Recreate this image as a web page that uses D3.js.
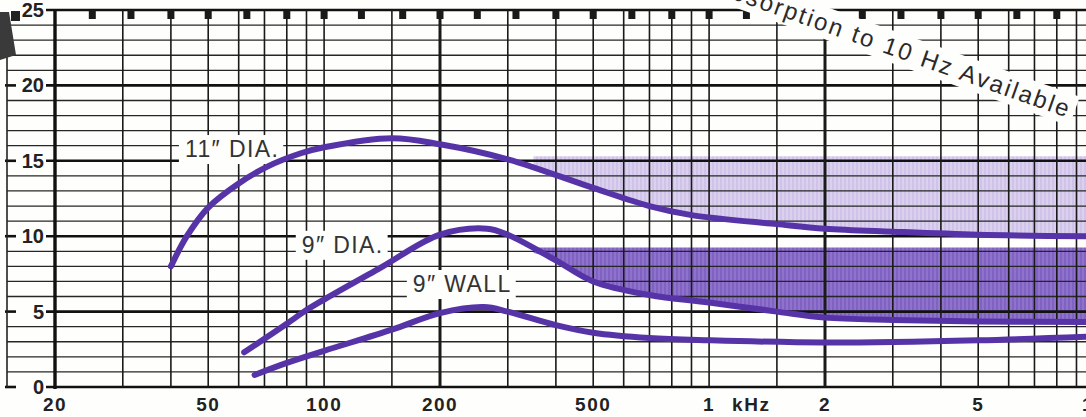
<!DOCTYPE html>
<html>
<head>
<meta charset="utf-8">
<script src="https://cdn.jsdelivr.net/npm/d3@7"></script>
<style>
  body { margin: 0; background: #fefefc; }
  svg { display: block; font-family: "Liberation Sans", Arial, sans-serif; }
</style>
</head>
<body>
<div id="graphic"></div>
<script>
// frequency axis (Hz) and absorption axis
const freqTicks = [20, 50, 100, 200, 500, 1000, 2000, 5000, 10000]
const freqTickLabels = ["20", "50", "100", "200", "500", "1", "2", "5", "10"]
const gridFreqs = [30, 40, 50, 60, 70, 80, 90, 100, 150, 200, 300, 400, 500, 600, 700, 800, 900,
    1000, 1500, 2000, 3000, 4000, 5000, 6000, 7000, 8000, 9000]
const heavyFreqs = [200, 2000]
const thirdOctaves = [25, 31.5, 40, 50, 63, 80, 100, 125, 160, 200, 250, 315, 400, 500, 630, 800,
    1000, 1250, 1600, 2000, 2500, 3150, 4000, 5000, 6300, 8000]
const yMajor = [0, 5, 10, 15, 20, 25]
const yMinor = [1, 2, 3, 4, 6, 7, 8, 9, 11, 12, 13, 14, 16, 17, 18, 19, 21, 22, 23, 24]

// curves
const dia11Freq = [40, 44, 50, 60, 71, 87, 100, 150, 200, 300, 500, 700, 900, 1500, 2000, 3000, 5000, 10000]
const dia11Abs = [8.0, 10.0, 11.9, 13.5, 14.6, 15.5, 15.9, 16.5, 16.1, 15.1, 13.2, 12.0, 11.4, 10.8, 10.5, 10.3, 10.1, 10.0]
const dia9Freq = [62, 70, 80, 90, 100, 140, 200, 265, 300, 400, 500, 700, 1000, 1500, 2000, 3000, 5000, 10000]
const dia9Abs = [2.3, 3.2, 4.2, 5.1, 5.8, 7.9, 10.1, 10.5, 10.1, 8.4, 7.0, 6.1, 5.6, 5.0, 4.6, 4.45, 4.35, 4.3]
const wall9Freq = [66, 80, 100, 150, 200, 260, 300, 400, 500, 700, 1000, 2000, 5000, 10000]
const wall9Abs = [0.8, 1.6, 2.4, 3.8, 4.9, 5.3, 5.0, 4.1, 3.6, 3.25, 3.1, 2.95, 3.1, 3.35]

// shaded "available" bands: top level and start frequency
const bandTops = [15.3, 9.25]
const bandStartFreq = 350

// curve labels: text, start frequency, baseline level
const curveLabels = ["11\u2033 DIA.", "9\u2033 DIA.", "9\u2033 WALL"]
const labelFreqs = [43.5, 87.5, 170]
const labelAbs = [15.25, 8.9, 6.3]

const W = 1086, H = 417

let x = d3.scaleLog().domain([20, 10000]).range([55, 55 + 385 * Math.log10(500)])
let y = d3.scaleLinear().domain([0, 25]).range([387, 10])

let svg = d3.select("#graphic").append("svg")
    .attr("width", W)
    .attr("height", H)

let defs = svg.append("defs")
function hatch(id, base, stripe) {
    let p = defs.append("pattern")
        .attr("id", id)
        .attr("patternUnits", "userSpaceOnUse")
        .attr("width", 4).attr("height", 4)
    p.append("rect").attr("width", 4).attr("height", 4).attr("fill", base)
    p.append("rect").attr("width", 2).attr("height", 4).attr("fill", stripe)
}
hatch("light", "#dbd1ee", "#cfc3e9")
hatch("dark", "#8e72cc", "#7f62c2")

defs.append("clipPath").attr("id", "bandclip")
    .append("rect")
    .attr("x", x(bandStartFreq)).attr("y", 0)
    .attr("width", W - x(bandStartFreq)).attr("height", H)

const series = [
    { freq: dia11Freq, abs: dia11Abs },
    { freq: dia9Freq, abs: dia9Abs },
    { freq: wall9Freq, abs: wall9Abs }
]

// bands under the grid
let area = d3.area().curve(d3.curveCatmullRom.alpha(0.5))
const fills = ["url(#light)", "url(#dark)"]
bandTops.forEach(function (top, i) {
    let s = series[i]
    svg.append("path")
        .attr("clip-path", "url(#bandclip)")
        .attr("fill", fills[i])
        .attr("d", area
            .x(function (d, j) { return x(s.freq[j]) })
            .y0(function (d) { return y(Math.min(d, top)) })
            .y1(function () { return y(top) })(s.abs))
})

// horizontal grid
svg.selectAll(null)
    .data(yMinor)
    .enter().append("line")
    .attr("x1", 7).attr("x2", W)
    .attr("y1", function (d) { return y(d) })
    .attr("y2", function (d) { return y(d) })
    .attr("stroke", "#262626")
    .attr("stroke-width", 1.3)

svg.selectAll(null)
    .data(yMajor)
    .enter().append("line")
    .attr("x1", 46).attr("x2", W)
    .attr("y1", function (d) { return y(d) })
    .attr("y2", function (d) { return y(d) })
    .attr("stroke", "#111")
    .attr("stroke-width", 2.6)

// small dash before each label
svg.selectAll(null)
    .data(yMajor.slice(0, 5))
    .enter().append("line")
    .attr("x1", 5).attr("x2", 16)
    .attr("y1", function (d) { return y(d) })
    .attr("y2", function (d) { return y(d) })
    .attr("stroke", "#111")
    .attr("stroke-width", 2.6)

// vertical grid
svg.selectAll(null)
    .data(gridFreqs)
    .enter().append("line")
    .attr("x1", function (d) { return x(d) })
    .attr("x2", function (d) { return x(d) })
    .attr("y1", y(25)).attr("y2", y(0))
    .attr("stroke", "#1a1a1a")
    .attr("stroke-width", function (d) { return heavyFreqs.includes(d) ? 3 : 1.6 })

// left frame and axis line
svg.append("line").attr("x1", 7).attr("x2", 7).attr("y1", y(23.5)).attr("y2", y(0))
    .attr("stroke", "#222").attr("stroke-width", 1.6)
svg.append("line").attr("x1", x(20)).attr("x2", x(20)).attr("y1", y(25)).attr("y2", y(0) + 2)
    .attr("stroke", "#111").attr("stroke-width", 3.4)

// third-octave markers on top edge
svg.selectAll(null)
    .data(thirdOctaves)
    .enter().append("rect")
    .attr("x", function (d) { return x(d) - 3.5 })
    .attr("y", y(25))
    .attr("width", 7).attr("height", 9)
    .attr("fill", "#1a1a1a")

// scan artifact at top-left corner
svg.append("path").attr("d", "M0,12 L9,12 L16,55 L0,60 Z").attr("fill", "#3a3a3a")
svg.append("rect").attr("x", 11).attr("y", 11).attr("width", 9).attr("height", 10).attr("fill", "#222")

// white boxes for curve labels (curves pass over them)
let labelGroups = curveLabels.map(function (t, i) {
    let g = svg.append("g")
    let txt = g.append("text")
        .attr("x", x(labelFreqs[i]))
        .attr("y", y(labelAbs[i]))
        .attr("font-size", 23)
        .attr("fill", "#333")
        .attr("letter-spacing", 1.4)
        .text(t)
    let b = txt.node().getBBox()
    g.insert("rect", "text")
        .attr("x", b.x - 6).attr("y", b.y - 1)
        .attr("width", b.width + 10).attr("height", b.height + 3)
        .attr("fill", "#fefefc")
    return g
})

// curves
let line = d3.line().curve(d3.curveCatmullRom.alpha(0.5))
series.forEach(function (s) {
    svg.append("path")
        .attr("fill", "none")
        .attr("stroke", "#5634a8")
        .attr("stroke-width", 6)
        .attr("stroke-linecap", "round")
        .attr("d", line
            .x(function (d, j) { return x(s.freq[j]) })
            .y(function (d) { return y(d) })(s.abs))
})
labelGroups.forEach(function (g) { g.select("text").raise() })

// rotated note in the top right
let note = svg.append("g").attr("transform", "translate(1068,118) rotate(19.5)")
let noteText = note.append("text")
    .attr("text-anchor", "end")
    .attr("font-size", 24)
    .attr("fill", "#2a2a2a")
    .attr("letter-spacing", 2.2)
    .text("Absorption to 10 Hz Available")
let nb = noteText.node().getBBox()
note.insert("rect", "text")
    .attr("x", nb.x - 6).attr("y", nb.y - 2)
    .attr("width", nb.width + 10).attr("height", nb.height + 4)
    .attr("fill", "#fefefc")

// y labels
svg.selectAll(null)
    .data(yMajor)
    .enter().append("text")
    .attr("x", 44)
    .attr("y", function (d) { return y(d) + 7 })
    .attr("text-anchor", "end")
    .attr("font-size", 20)
    .attr("font-weight", "bold")
    .attr("fill", "#222")
    .text(function (d) { return d })

// x labels
svg.selectAll(null)
    .data(freqTicks)
    .enter().append("text")
    .attr("x", function (d) { return x(d) })
    .attr("y", 411)
    .attr("text-anchor", "middle")
    .attr("font-size", 19)
    .attr("font-weight", "bold")
    .attr("letter-spacing", 1.5)
    .attr("fill", "#222")
    .text(function (d, i) { return freqTickLabels[i] })

svg.append("text")
    .attr("x", x(1000) + 23)
    .attr("y", 411)
    .attr("font-size", 19)
    .attr("font-weight", "bold")
    .attr("letter-spacing", 1.5)
    .attr("fill", "#222")
    .text("kHz")
</script>
</body>
</html>
